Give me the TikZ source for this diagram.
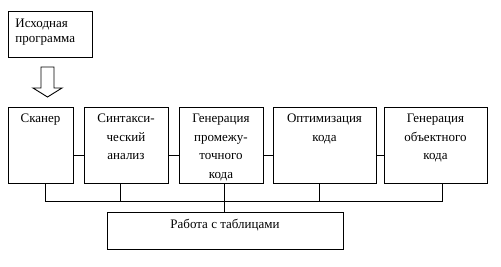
\documentclass[tikz,border=0pt]{standalone}
\usepackage{fontspec}
\setmainfont{Liberation Serif}
\usetikzlibrary{positioning}
\begin{document}
\begin{tikzpicture}[x=1pt, y=-1pt, line width=0.9pt,
    blk/.style={draw, minimum height=76pt, inner sep=0pt},
    txt/.style={font=\fontsize{13}{18.5}\selectfont, align=center, inner sep=0pt}]
\useasboundingbox (0,0) rectangle (501,267);
\node[draw, minimum width=84pt, minimum height=46pt] (src) at (50,34) {};
\node[txt, align=left, anchor=north west, font=\fontsize{13}{15}\selectfont] (srctxt) at (15,19) {Исходная\\программа};
\draw (41,67) -- (54,67) -- (54,88) -- (62,88) -- (47.5,97) -- (33,88) -- (41,88) -- cycle;
\node[blk, minimum width=65pt] (scan) at (40.5,145) {};
\node[blk, minimum width=84pt] (syn) at (126,145) {};
\node[blk, minimum width=84pt] (gen) at (221,145) {};
\node[blk, minimum width=103pt] (opt) at (324.5,145) {};
\node[blk, minimum width=103pt] (obj) at (435.5,145) {};
\node[draw, minimum width=236pt, minimum height=37pt] (tab) at (225,230.5) {};
\node[txt, below=7pt of scan.north] (scantxt) {Сканер};
\node[txt, below=7pt of syn.north] (syntxt) {Синтакси-\\ческий\\анализ};
\node[txt, below=7pt of gen.north] (gentxt) {Генерация\\промежу-\\точного\\кода};
\node[txt, below=7pt of opt.north] (opttxt) {Оптимизация\\кода};
\node[txt, below=7pt of obj.north] (objtxt) {Генерация\\объектного\\кода};
\node[txt, below=7pt of tab.north] (tabtxt) {Работа с таблицами};
\coordinate (hl) at (0,155);
\draw (scan.east |- hl) -- (syn.west |- hl);
\draw (syn.east |- hl) -- (gen.west |- hl);
\draw (gen.east |- hl) -- (opt.west |- hl);
\draw (opt.east |- hl) -- (obj.west |- hl);
\coordinate (d1) at (45,201);
\coordinate (d2) at (120,201);
\coordinate (d3) at (224,201);
\coordinate (d4) at (319,201);
\coordinate (d5) at (442,201);
\draw (scan.south -| d1) -- (d1) -- (d5) -- (obj.south -| d5);
\draw (syn.south -| d2) -- (d2);
\draw (opt.south -| d4) -- (d4);
\draw (gen.south -| d3) -- (tab.north -| d3);
\end{tikzpicture}
\end{document}
